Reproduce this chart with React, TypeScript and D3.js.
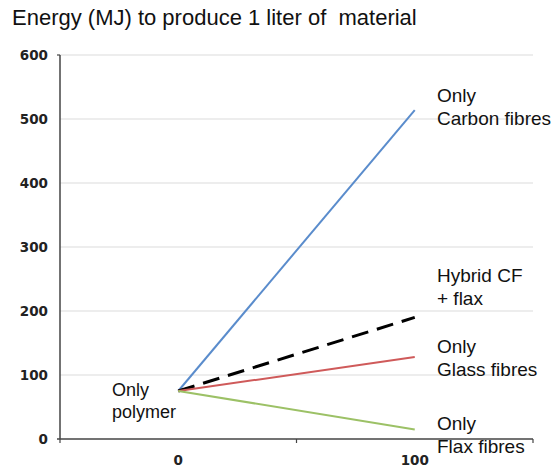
import * as d3 from "d3";

const yTicks = [0, 100, 200, 300, 400, 500, 600];
const xTickLabels = ["0", "100"];
const shares = [0, 100];
const carbon = [75, 514];
const hybrid = [75, 190];
const glass = [75, 128];
const flax = [75, 15];

const seriesNames = ["Only\nCarbon fibres", "Hybrid CF\n+ flax", "Only\nGlass fibres", "Only\nFlax fibres"];
const seriesValues = [carbon, hybrid, glass, flax];
const seriesColors = ["#5a8ccc", "#000000", "#cf5a5a", "#9cc166"];
const labelOffsets = [-8, -35, -4, 1];

export default function App() {
  const width = 556;
  const height = 467;
  const font = "Liberation Sans, Arial, sans-serif";
  const tickFont = "DejaVu Sans, Verdana, sans-serif";

  const x = d3.scaleLinear().domain([-50, 150]).range([60, 533]);
  const y = d3.scaleLinear().domain([0, 600]).range([439, 55]);

  const line = d3
    .line<number>()
    .x((_, i) => x(shares[i]))
    .y((d) => y(d));

  return (
    <svg
      width={width}
      height={height}
      style={{ position: "absolute", left: 0, top: 0, background: "white" }}
      fontFamily={font}
    >
      <text x={12} y={25} fontSize={22} fill="#111" style={{ whiteSpace: "pre" }}>
        Energy (MJ) to produce 1 liter of  material
      </text>

      {yTicks.map((t) => (
        <g key={t}>
          {t > 0 && (
            <line x1={60} x2={533} y1={y(t)} y2={y(t)} stroke="#dcdcdc" strokeWidth={1.2} />
          )}
          <text
            x={48}
            y={y(t)}
            dy="0.36em"
            textAnchor="end"
            fontSize={13.5}
            fontWeight="bold"
            fontFamily={tickFont}
            fill="#222"
          >
            {t}
          </text>
        </g>
      ))}

      <line x1={60} x2={60} y1={y(600)} y2={y(0)} stroke="#444" strokeWidth={1.5} />
      <line x1={57} x2={60} y1={y(600)} y2={y(600)} stroke="#444" strokeWidth={1.2} />
      <line x1={57} x2={533} y1={y(0)} y2={y(0)} stroke="#444" strokeWidth={1.5} />
      {[-50, 50, 150].map((t) => (
        <line key={t} x1={x(t)} x2={x(t)} y1={y(0)} y2={y(0) + 4} stroke="#444" strokeWidth={1.2} />
      ))}
      {xTickLabels.map((l, i) => (
        <text
          key={l}
          x={x(shares[i])}
          y={465}
          textAnchor="middle"
          fontSize={13.5}
          fontWeight="bold"
          fontFamily={tickFont}
          fill="#222"
        >
          {l}
        </text>
      ))}

      {seriesValues.map((vals, i) => (
        <path
          key={i}
          d={line(vals) ?? ""}
          fill="none"
          stroke={seriesColors[i]}
          strokeWidth={i === 1 ? 3 : 2}
          strokeDasharray={i === 1 ? "17 9" : undefined}
        />
      ))}

      {seriesNames.map((name, i) => (
        <text key={name} x={437} y={y(seriesValues[i][1]) + labelOffsets[i]} fontSize={19} fill="#111">
          {name.split("\n").map((part, j) => (
            <tspan key={j} x={437} dy={j === 0 ? 0 : 22.5}>
              {part}
            </tspan>
          ))}
        </text>
      ))}

      <text x={112} y={396} fontSize={18} fill="#111">
        <tspan x={112}>Only</tspan>
        <tspan x={112} dy={22}>polymer</tspan>
      </text>
    </svg>
  );
}
